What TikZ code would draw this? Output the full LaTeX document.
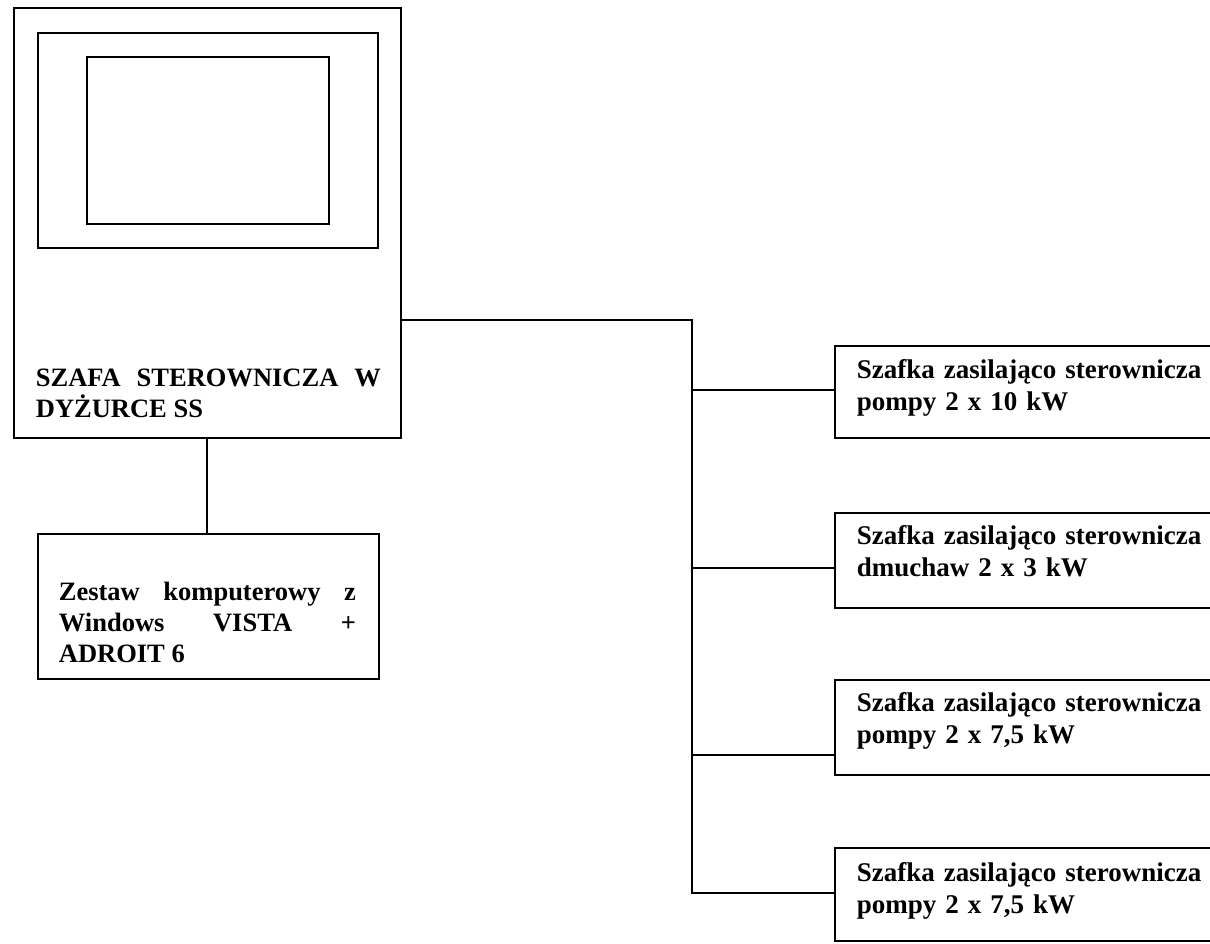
\documentclass[tikz,border=0pt]{standalone}
\usepackage{fontspec}
\setmainfont{Liberation Serif}
\begin{document}
\begin{tikzpicture}[x=1pt,y=-1pt,line width=1.8pt,
  box/.style={draw,rectangle,inner sep=0pt,anchor=north west},
  lbl/.style={inner sep=0pt,anchor=base west,font=\bfseries\fontsize{26.5}{31}\selectfont},
  lblr/.style={inner sep=0pt,anchor=base west,text width=360,align=left,font=\bfseries\fontsize{27}{32}\selectfont},
  lblc/.style={inner sep=0pt,anchor=base west,font=\bfseries\fontsize{26.5}{31}\selectfont}]
\useasboundingbox (0,0) rectangle (1210,943);
\clip (0,0) rectangle (1210,943);
% control cabinet
\node[box,minimum width=387,minimum height=430] (cab) at (13,7) {};
\node[box,minimum width=340,minimum height=215] (panel) at (37,32) {};
\node[box,minimum width=242,minimum height=167] (screen) at (86,56) {};
\node[lbl,text width=345,align=justify] (cabtxt) at (35,386) {SZAFA STEROWNICZA W\linebreak DYŻURCE SS};
% computer
\node[box,minimum width=341,minimum height=145] (pc) at (37,533) {};
\node[lblc,text width=297,align=justify] (pctxt) at (58,600) {Zestaw komputerowy z\linebreak Windows VISTA +\linebreak ADROIT 6};
% right boxes
\node[box,minimum width=380,minimum height=92] (b1) at (834,345) {};
\node[box,minimum width=380,minimum height=95] (b2) at (834,512) {};
\node[box,minimum width=380,minimum height=95] (b3) at (834,679) {};
\node[box,minimum width=380,minimum height=93] (b4) at (834,847) {};
\node[lblr] (t1) at (856,378) {Szafka zasilająco sterownicza\\pompy 2 x 10 kW};
\node[lblr] (t2) at (856,544) {Szafka zasilająco sterownicza\\dmuchaw 2 x 3 kW};
\node[lblr] (t3) at (856,711) {Szafka zasilająco sterownicza\\pompy 2 x 7,5 kW};
\node[lblr] (t4) at (856,881) {Szafka zasilająco sterownicza\\pompy 2 x 7,5 kW};
% connectors
\coordinate (top) at (692,320);
\coordinate (j1) at (692,390);
\coordinate (j2) at (692,568);
\coordinate (j3) at (692,755);
\coordinate (j4) at (692,893);
\coordinate (down) at (207,437);
\draw (cab.east |- top) -- (top) -- (j4) -- (j4 -| b4.west);
\draw (j1) -- (j1 -| b1.west);
\draw (j2) -- (j2 -| b2.west);
\draw (j3) -- (j3 -| b3.west);
\draw (down |- cab.south) -- (down |- pc.north);
\end{tikzpicture}
\end{document}
